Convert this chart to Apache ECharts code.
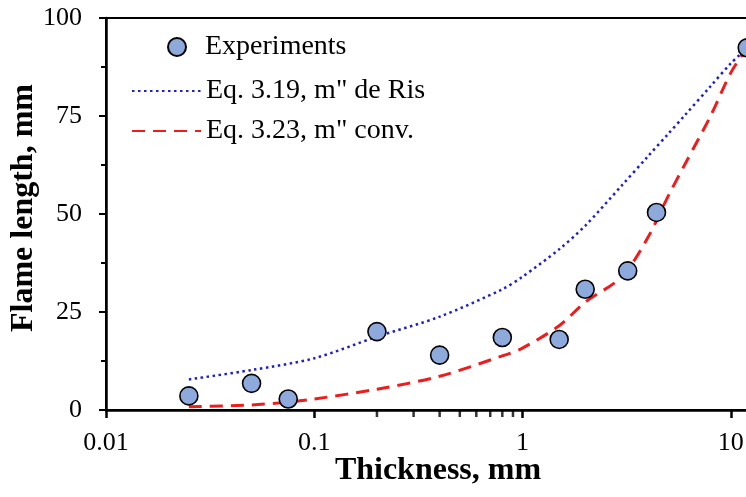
<!DOCTYPE html>
<html>
<head>
<meta charset="utf-8">
<script src="https://cdn.jsdelivr.net/npm/echarts@6/dist/echarts.min.js"></script>
<style>
  html, body { margin: 0; padding: 0; background: #fff; }
  #chart { width: 746px; height: 497px; }
</style>
</head>
<body>
<div id="chart"></div>
<script>
// experiments
const expThickness = [0.025, 0.05, 0.075, 0.2, 0.4, 0.8, 1.5, 2, 3.2, 4.4, 12];
const expFlame = [3.6, 6.8, 2.8, 20.0, 14.0, 18.5, 18.0, 30.8, 35.5, 50.4, 92.4];

// Eq. 3.19, m" de Ris (dotted blue)
const risThickness = [0.025, 0.05, 0.1, 0.2, 0.4, 0.8, 1, 1.5, 2, 3, 4, 5, 6, 8, 10, 12];
const risFlame = [7.8, 10.2, 13.2, 18.7, 23.8, 30.8, 34, 41, 47, 57.3, 64.7, 70.4, 75.1, 82.6, 88.4, 92.4];

// Eq. 3.23, m" conv. (dashed red)
const convThickness = [0.025, 0.05, 0.075, 0.1, 0.2, 0.4, 0.8, 1, 1.5, 2, 3, 4, 5, 6, 8, 10, 12];
const convFlame = [0.8, 1.3, 2.0, 2.8, 5.3, 8.6, 13.8, 15.8, 21.5, 27.5, 34, 44, 54.5, 62.5, 75, 86, 92.5];

// minor ticks on the log axis (only drawn in the 0.1-1 decade)
const minorTicks = [0.2, 0.3, 0.4, 0.5, 0.6, 0.7, 0.8, 0.9];

const names = ["Experiments", 'Eq. 3.19, m" de Ris', 'Eq. 3.23, m" conv.'];
const serif = "'Liberation Serif', 'Times New Roman', serif";

const zip = (xs, ys) => xs.map((x, i) => [x, ys[i]]);

const chart = echarts.init(document.getElementById("chart"));
const legendText = { fontFamily: serif, fontSize: 28, lineHeight: 28, color: "#000" };
const option = {
  animation: false,
  backgroundColor: "#fff",
  grid: {
    left: 106,
    top: 18,
    width: 833,
    height: 392,
    containLabel: false,
    outerBoundsMode: "none",
    show: true,
    borderColor: "#000",
    borderWidth: 2,
  },
  legend: [
    {
      data: [names[0]],
      orient: "vertical",
      left: 167,
      top: 33,
      padding: 0,
      itemWidth: 46,
      itemHeight: 18,
      textStyle: legendText,
    },
    {
      data: [names[1], names[2]],
      orient: "vertical",
      left: 131,
      top: 77,
      padding: 0,
      itemWidth: 69,
      itemHeight: 18,
      itemGap: 12,
      itemStyle: { opacity: 0 },
      lineStyle: { opacity: 1 },
      textStyle: legendText,
    },
  ],
  xAxis: {
    type: "log",
    logBase: 10,
    min: 0.01,
    max: 100,
    axisLine: { lineStyle: { color: "#000", width: 2.5 } },
    axisTick: { show: true, inside: false, length: 8, lineStyle: { color: "#000", width: 2.5 } },
    minorTick: { show: false },
    splitLine: { show: false },
    axisLabel: {
      margin: 20,
      fontFamily: serif,
      fontSize: 26,
      color: "#000",
      formatter: (v) => String(v),
    },
  },
  yAxis: {
    type: "value",
    min: 0,
    max: 100,
    interval: 25,
    axisLine: { show: true, lineStyle: { color: "#000", width: 2.5 } },
    axisTick: { show: true, inside: false, length: 7, lineStyle: { color: "#000", width: 2 } },
    minorTick: { show: true, splitNumber: 2, length: 5, lineStyle: { color: "#000", width: 2 } },
    splitLine: { show: false },
    axisLabel: { margin: 24, fontFamily: serif, fontSize: 26, color: "#000" },
  },
  graphic: [
    {
      type: "text",
      x: 438,
      y: 471,
      style: {
        text: "Thickness, mm",
        font: "bold 32px " + serif,
        fill: "#000",
        textAlign: "center",
        textVerticalAlign: "middle",
      },
    },
    {
      type: "text",
      x: 24,
      y: 208,
      rotation: Math.PI / 2,
      style: {
        text: "Flame length, mm",
        font: "bold 32px " + serif,
        fill: "#000",
        textAlign: "center",
        textVerticalAlign: "middle",
      },
    },
  ],
  series: [
    {
      name: names[1],
      type: "line",
      smooth: 0.3,
      symbol: "none",
      z: 2,
      lineStyle: { color: "#1F1FCC", width: 2.5, type: [2.5, 3.5] },
      itemStyle: { color: "#1F1FCC" },
      data: zip(risThickness, risFlame),
    },
    {
      name: names[2],
      type: "line",
      smooth: 0.3,
      symbol: "none",
      z: 2,
      lineStyle: { color: "#EE1C1C", width: 3, type: [13, 8] },
      itemStyle: { color: "#EE1C1C" },
      data: zip(convThickness, convFlame),
    },
    {
      name: names[0],
      type: "scatter",
      symbol: "circle",
      symbolSize: 18,
      z: 5,
      itemStyle: { color: "#8EA9DB", borderColor: "#000", borderWidth: 1.6, opacity: 1 },
      data: zip(expThickness, expFlame),
    },
    {
      name: "minor",
      type: "scatter",
      symbol: "rect",
      symbolSize: [2.5, 6],
      symbolOffset: [0, 4],
      clip: false,
      silent: true,
      z: 6,
      itemStyle: { color: "#000" },
      data: minorTicks.map((t) => [t, 0]),
    },
  ],
};
chart.setOption(option);
</script>
</body>
</html>
